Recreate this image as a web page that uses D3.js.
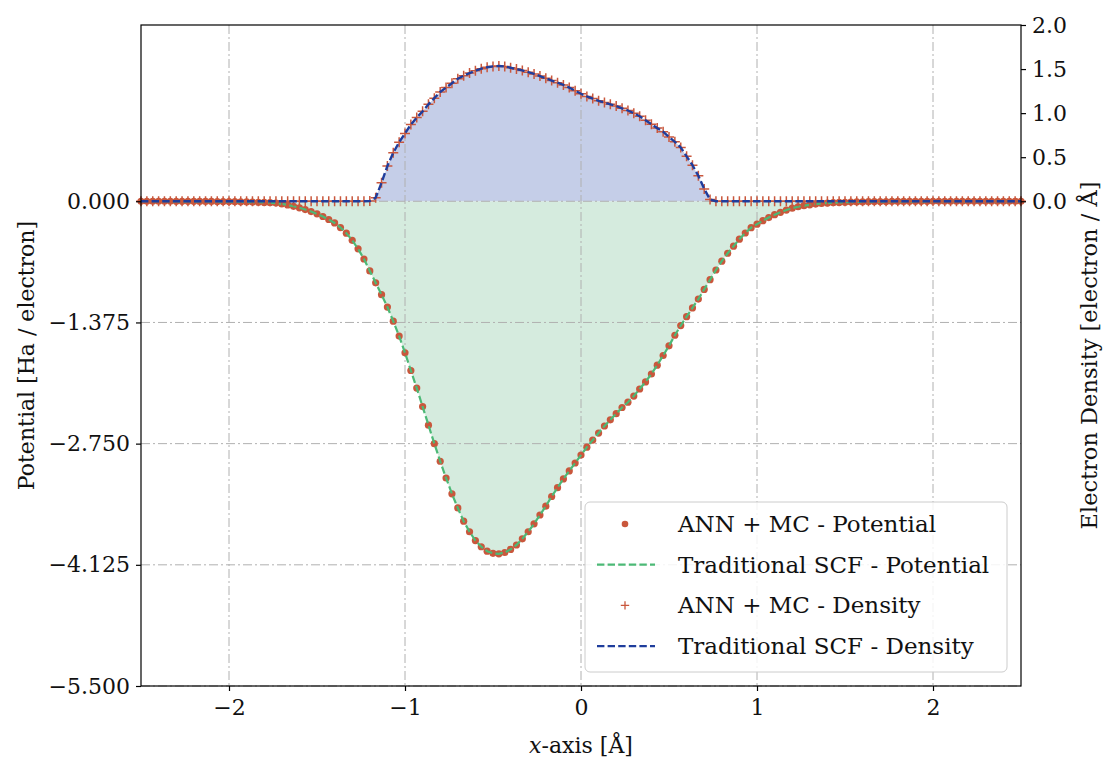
<!DOCTYPE html>
<html>
<head>
<meta charset="utf-8">
<style>
  body { margin: 0; background: #fff; }
  svg text { font-family: "DejaVu Serif", "Liberation Serif", serif; fill: #111; }
</style>
</head>
<body>
<svg width="1105" height="760"></svg>
<script src="https://d3js.org/d3.v7.min.js"></script>
<script>

// sample positions along x [Å]
var xGrid = [
  -2.5,-2.4667,-2.4333,-2.4,-2.3667,-2.3333,-2.3,-2.2667,-2.2333,-2.2,-2.1667,-2.1333,-2.1,-2.0667,-2.0333,
  -2,-1.9667,-1.9333,-1.9,-1.8667,-1.8333,-1.8,-1.7667,-1.7333,-1.7,-1.6667,-1.6333,-1.6,-1.5667,-1.5333,
  -1.5,-1.4667,-1.4333,-1.4,-1.3667,-1.3333,-1.3,-1.2667,-1.2333,-1.2,-1.1667,-1.1333,-1.1,-1.0667,-1.0333,
  -1,-0.9667,-0.9333,-0.9,-0.8667,-0.8333,-0.8,-0.7667,-0.7333,-0.7,-0.6667,-0.6333,-0.6,-0.5667,-0.5333,
  -0.5,-0.4667,-0.4333,-0.4,-0.3667,-0.3333,-0.3,-0.2667,-0.2333,-0.2,-0.1667,-0.1333,-0.1,-0.0667,-0.0333,
  0,0.0333,0.0667,0.1,0.1333,0.1667,0.2,0.2333,0.2667,0.3,0.3333,0.3667,0.4,0.4333,0.4667,
  0.5,0.5333,0.5667,0.6,0.6333,0.6667,0.7,0.7333,0.7667,0.8,0.8333,0.8667,0.9,0.9333,0.9667,
  1,1.0333,1.0667,1.1,1.1333,1.1667,1.2,1.2333,1.2667,1.3,1.3333,1.3667,1.4,1.4333,1.4667,
  1.5,1.5333,1.5667,1.6,1.6333,1.6667,1.7,1.7333,1.7667,1.8,1.8333,1.8667,1.9,1.9333,1.9667,
  2,2.0333,2.0667,2.1,2.1333,2.1667,2.2,2.2333,2.2667,2.3,2.3333,2.3667,2.4,2.4333,2.4667,
  2.5
];

// potential [Ha / electron], traditional SCF
var scfPotential = [
  0,0,0,0,0,0,-0.001,-0.001,-0.001,-0.001,-0.002,-0.002,-0.002,-0.003,-0.003,
  -0.004,-0.005,-0.006,-0.007,-0.009,-0.011,-0.013,-0.016,-0.021,-0.03,-0.042,-0.057,-0.074,-0.094,-0.117,
  -0.143,-0.173,-0.207,-0.246,-0.298,-0.362,-0.443,-0.54,-0.655,-0.79,-0.925,-1.06,-1.2,-1.36,-1.53,
  -1.72,-1.92,-2.12,-2.33,-2.54,-2.75,-2.95,-3.14,-3.32,-3.48,-3.63,-3.75,-3.85,-3.92,-3.97,
  -3.995,-4.0,-3.985,-3.95,-3.9,-3.83,-3.75,-3.66,-3.56,-3.46,-3.35,-3.25,-3.15,-3.06,-2.97,
  -2.88,-2.79,-2.71,-2.63,-2.55,-2.48,-2.41,-2.34,-2.28,-2.21,-2.13,-2.05,-1.96,-1.86,-1.75,
  -1.64,-1.52,-1.41,-1.31,-1.21,-1.11,-1.0,-0.89,-0.78,-0.68,-0.59,-0.51,-0.43,-0.36,-0.3,
  -0.26,-0.22,-0.185,-0.152,-0.125,-0.1,-0.078,-0.062,-0.05,-0.04,-0.032,-0.025,-0.02,-0.016,-0.013,
  -0.011,-0.009,-0.007,-0.006,-0.005,-0.004,-0.003,-0.003,-0.002,-0.002,-0.002,-0.001,-0.001,-0.001,-0.001,
  0,0,0,0,0,0,0,0,0,0,0,0,0,0,0,
  0
];
// ANN + MC lies on top of the SCF curve
var annPotential = scfPotential;

// electron density [electron / Å], traditional SCF
var scfDensity = [
  0,0,0,0,0,0,0,0,0,0,0,0,0,0,0,
  0,0,0,0,0,0,0,0,0,0,0,0,0,0,0,
  0,0,0,0,0,0,0,0,0,0.002,0.04,0.21,0.4,0.55,0.67,
  0.77,0.87,0.95,1.02,1.1,1.17,1.24,1.29,1.34,1.39,1.425,1.455,1.48,1.505,1.52,
  1.53,1.535,1.53,1.515,1.5,1.485,1.465,1.445,1.42,1.395,1.37,1.345,1.32,1.29,1.255,
  1.22,1.19,1.165,1.14,1.12,1.1,1.08,1.055,1.03,1.0,0.965,0.92,0.875,0.83,0.79,
  0.73,0.675,0.61,0.51,0.41,0.29,0.14,0.02,0,0,0,0,0,0,0,
  0,0,0,0,0,0,0,0,0,0,0,0,0,0,0,
  0,0,0,0,0,0,0,0,0,0,0,0,0,0,0,
  0,0,0,0,0,0,0,0,0,0,0,0,0,0,0,
  0
];
var annDensity = scfDensity;

var xTicks = [-2, -1, 0, 1, 2];
var potTicks = [-5.5, -4.125, -2.75, -1.375, 0];
var denTicks = [0, 0.5, 1.0, 1.5, 2.0];

var legendItems = [
  {label: "ANN + MC - Potential", kind: "dot"},
  {label: "Traditional SCF - Potential", kind: "greenline"},
  {label: "ANN + MC - Density", kind: "plus"},
  {label: "Traditional SCF - Density", kind: "blueline"}
];

var red = "#c9573c", green = "#4cb976", blue = "#1f3d9c";

var svg = d3.select("svg"),
    margin = {top: 25, right: 84, bottom: 74, left: 141},
    width = +svg.attr("width") - margin.left - margin.right,
    height = +svg.attr("height") - margin.top - margin.bottom,
    g = svg.append("g").attr("transform", "translate(" + margin.left + "," + margin.top + ")");

var x = d3.scaleLinear().domain([-2.5, 2.5]).range([0, width]);
var y = d3.scaleLinear().domain([-5.5, 2.0]).range([height, 0]);   // potential
var y2 = d3.scaleLinear().domain([-5.5, 2.0]).range([height, 0]);  // density (twin axis)

var pot = xGrid.map(function(d, i) { return {x: d, scf: scfPotential[i], ann: annPotential[i]}; });
var den = xGrid.map(function(d, i) { return {x: d, scf: scfDensity[i], ann: annDensity[i]}; });

// fills
g.append("path")
  .datum(pot)
  .attr("fill", "#d5ebde")
  .attr("d", d3.area().x(function(d) { return x(d.x); }).y0(y(0)).y1(function(d) { return y(d.scf); }));

g.append("path")
  .datum(den)
  .attr("fill", "#c5cee8")
  .attr("d", d3.area().x(function(d) { return x(d.x); }).y0(y2(0)).y1(function(d) { return y2(d.scf); }));

// grid
var grid = g.append("g").attr("stroke", "#b0b0b0").attr("stroke-width", 1).attr("stroke-dasharray", "9,3,2,3");
grid.selectAll(".gx").data(xTicks).enter().append("line")
  .attr("x1", function(d) { return x(d); }).attr("x2", function(d) { return x(d); })
  .attr("y1", 0).attr("y2", height);
grid.selectAll(".gy").data(potTicks).enter().append("line")
  .attr("y1", function(d) { return y(d); }).attr("y2", function(d) { return y(d); })
  .attr("x1", 0).attr("x2", width);

// potential: ANN dots, SCF dashed line
g.append("g").selectAll("circle").data(pot).enter().append("circle")
  .attr("cx", function(d) { return x(d.x); })
  .attr("cy", function(d) { return y(d.ann); })
  .attr("r", 3.6)
  .attr("fill", red);

g.append("path")
  .datum(pot)
  .attr("fill", "none")
  .attr("stroke", green)
  .attr("stroke-width", 2.2)
  .attr("stroke-dasharray", "7.4,3.2")
  .attr("d", d3.line().x(function(d) { return x(d.x); }).y(function(d) { return y(d.scf); }));

// density: ANN plus markers, SCF dashed line
var plusSize = 5;
g.append("g").selectAll("path").data(den).enter().append("path")
  .attr("transform", function(d) { return "translate(" + x(d.x) + "," + y2(d.ann) + ")"; })
  .attr("d", "M" + (-plusSize) + ",0H" + plusSize + "M0," + (-plusSize) + "V" + plusSize)
  .attr("stroke", red)
  .attr("stroke-width", 1.5)
  .attr("fill", "none");

g.append("path")
  .datum(den)
  .attr("fill", "none")
  .attr("stroke", blue)
  .attr("stroke-width", 2.4)
  .attr("stroke-dasharray", "7.4,3.2")
  .attr("d", d3.line().x(function(d) { return x(d.x); }).y(function(d) { return y2(d.scf); }));

// axes
var fs = "22px";
var xAxis = g.append("g")
  .attr("transform", "translate(0," + height + ")")
  .call(d3.axisBottom(x).tickValues(xTicks).tickFormat(d3.format("d")).tickSize(5).tickSizeOuter(0).tickPadding(8));
var yAxis = g.append("g")
  .call(d3.axisLeft(y).tickValues(potTicks).tickFormat(d3.format(".3f")).tickSize(5).tickSizeOuter(0).tickPadding(6));
var y2Axis = g.append("g")
  .attr("transform", "translate(" + width + ",0)")
  .call(d3.axisRight(y2).tickValues(denTicks).tickFormat(d3.format(".1f")).tickSize(5).tickSizeOuter(0).tickPadding(6));

[xAxis, yAxis, y2Axis].forEach(function(a) {
  a.select(".domain").remove();
  a.selectAll("text").attr("font-family", "DejaVu Serif").attr("font-size", fs).attr("fill", "#111");
  a.selectAll("line").attr("stroke", "#000").attr("stroke-width", 1.2);
});

// frame
g.append("rect")
  .attr("width", width).attr("height", height)
  .attr("fill", "none").attr("stroke", "#000").attr("stroke-width", 1.2);

// axis labels
var xl = svg.append("text")
  .attr("x", margin.left + width / 2).attr("y", 753)
  .attr("text-anchor", "middle").attr("font-size", fs);
xl.append("tspan").attr("font-style", "italic").text("x");
xl.append("tspan").text("-axis [Å]");

svg.append("text")
  .attr("transform", "translate(34," + (margin.top + height / 2) + ") rotate(-90)")
  .attr("text-anchor", "middle").attr("font-size", fs)
  .text("Potential [Ha / electron]");

svg.append("text")
  .attr("transform", "translate(1097," + (margin.top + height / 2) + ") rotate(-90)")
  .attr("text-anchor", "middle").attr("font-size", "22.5px")
  .text("Electron Density [electron / Å]");

// legend
var lg = g.append("g").attr("transform", "translate(" + (585 - margin.left) + "," + (502 - margin.top) + ")");
lg.append("rect")
  .attr("width", 422).attr("height", 170).attr("rx", 5)
  .attr("fill", "#fff").attr("fill-opacity", 0.85)
  .attr("stroke", "#cccccc").attr("stroke-width", 1);

var rows = lg.selectAll(".row").data(legendItems).enter().append("g")
  .attr("transform", function(d, i) { return "translate(0," + (22 + i * 40.7) + ")"; });

rows.each(function(d) {
  var r = d3.select(this);
  if (d.kind === "dot") {
    r.append("circle").attr("cx", 40).attr("cy", 0).attr("r", 3.3).attr("fill", red);
  } else if (d.kind === "plus") {
    r.append("path").attr("transform", "translate(40,0)")
      .attr("d", "M-4.2,0H4.2M0,-4.2V4.2")
      .attr("stroke", red).attr("stroke-width", 1.3);
  } else {
    r.append("line").attr("x1", 12).attr("x2", 70).attr("y1", 0).attr("y2", 0)
      .attr("stroke", d.kind === "greenline" ? green : blue)
      .attr("stroke-width", 2.2).attr("stroke-dasharray", "7.4,3.2");
  }
  r.append("text").attr("x", 93).attr("dy", "0.35em").attr("font-size", "23px").text(d.label);
});

</script>
</body>
</html>
